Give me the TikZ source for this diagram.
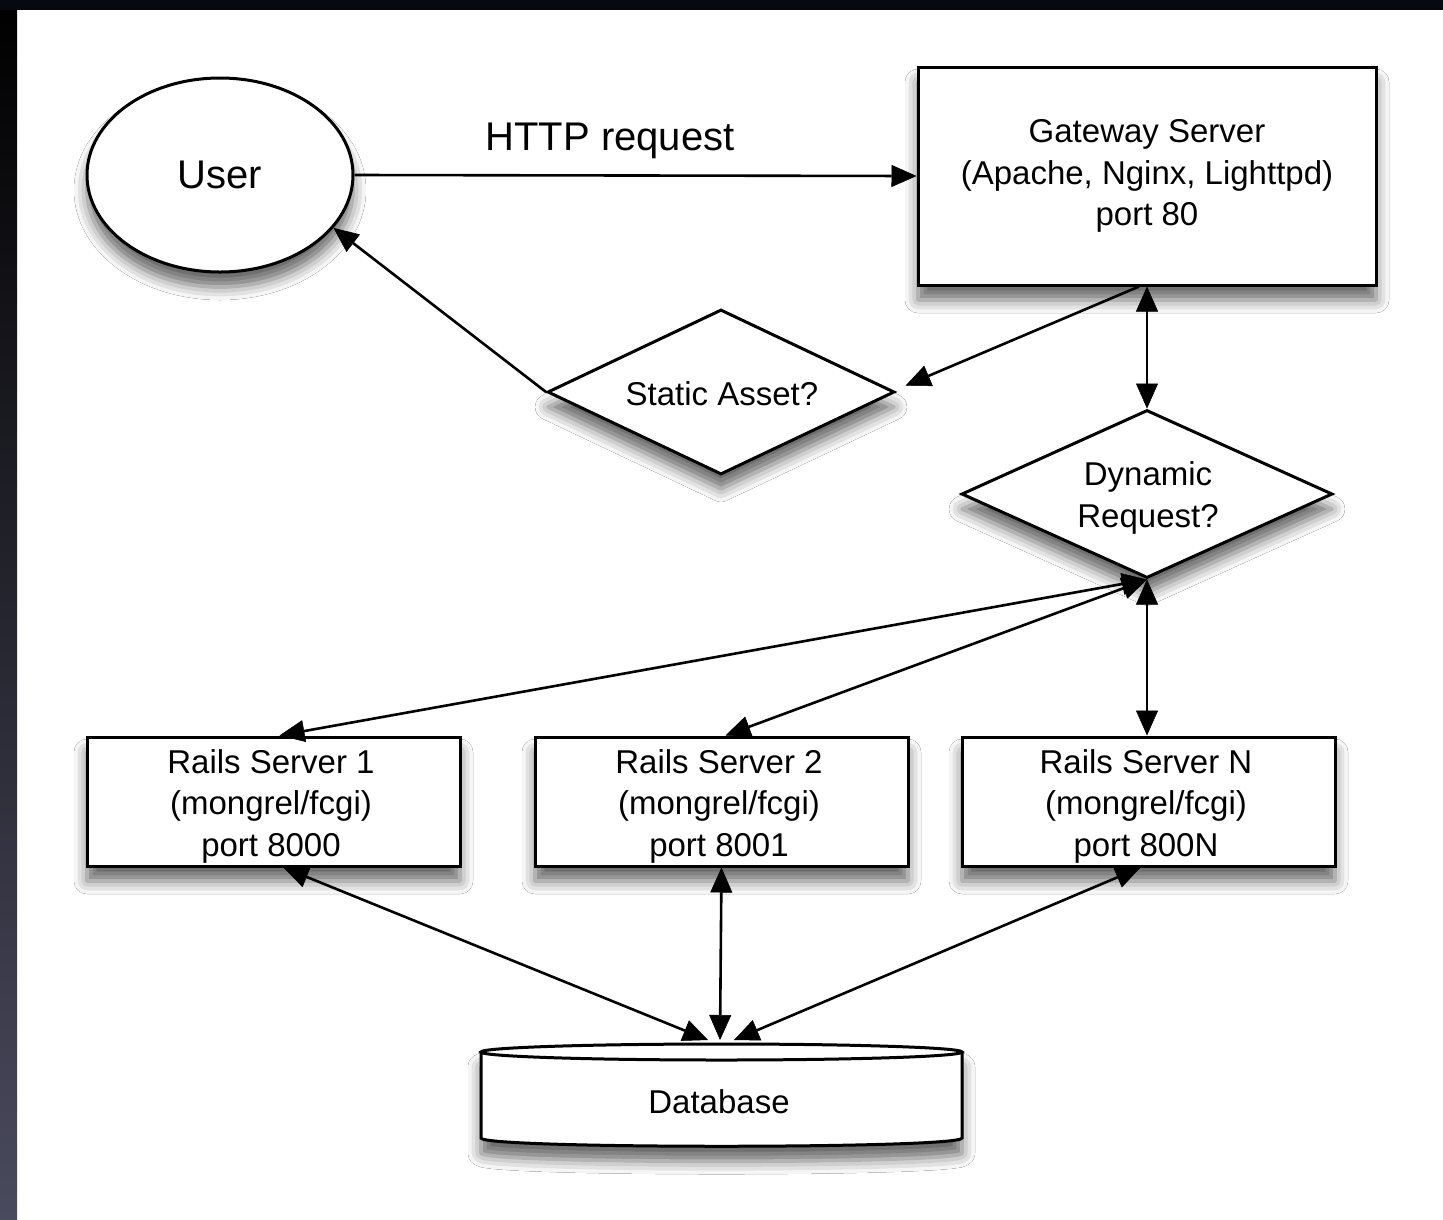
\documentclass[tikz,border=0pt]{standalone}
\usepackage{fontspec}
\setmainfont{Liberation Sans}
\usetikzlibrary{shapes.geometric,arrows.meta,shadows.blur,calc}
\definecolor{bandtop}{RGB}{8,8,16}
\definecolor{bandbot}{RGB}{74,74,94}
\begin{document}
\begin{tikzpicture}[x=1pt,y=-1pt,
  shd/.style={blur shadow={shadow xshift=0pt,shadow yshift=-15pt,shadow blur radius=13pt,shadow opacity=60}},
  txt/.style={font=\fontsize{33}{41.5}\selectfont,align=center},
  boxn/.style={draw,line width=3pt,fill=white,shd,inner sep=0pt,txt},
  dia/.style={boxn,diamond,aspect=2.1},
  tip/.style={Triangle[length=25pt,width=22pt,fill=black,line width=0.5pt]},
  conn/.style={line width=2.6pt,-{Triangle[length=25pt,width=22pt,fill=black,line width=0.5pt]}},
  dconn/.style={line width=2.6pt,{Triangle[length=25pt,width=22pt,fill=black,line width=0.5pt]}-{Triangle[length=25pt,width=22pt,fill=black,line width=0.5pt]}}]
\useasboundingbox (0,0) rectangle (1443,1219);
\fill[white] (0,0) rectangle (1443,1219);
\shade[top color=black,bottom color=bandbot] (0,0) rectangle (17,1219);
\fill[bandtop] (0,0) rectangle (1443,10);

\node[boxn,ellipse,minimum width=266,minimum height=194,font=\fontsize{40}{48}\selectfont] (user) at (220,175) {User};
\node[boxn,minimum width=458,minimum height=218] (gw) at (1147,176) {Gateway Server\\(Apache, Nginx, Lighttpd)\\port 80};
\node[dia,minimum width=347,minimum height=165] (static) at (721,392) {};
\node[txt] (statict) at (722,394) {Static Asset?};
\node[dia,minimum width=371,minimum height=168] (dyn) at (1147,494) {};
\node[txt] (dynt) at (1148,498) {Dynamic\\Request?};
\node[boxn,minimum width=373,minimum height=129] (r1) at (273.5,801.5) {};
\node[txt] (r1t) at (271,806) {Rails Server 1\\(mongrel/fcgi)\\port 8000};
\node[boxn,minimum width=373,minimum height=129] (r2) at (721.5,801.5) {};
\node[txt] (r2t) at (719,806) {Rails Server 2\\(mongrel/fcgi)\\port 8001};
\node[boxn,minimum width=373,minimum height=129] (rn) at (1148.5,801.5) {};
\node[txt] (rnt) at (1146,806) {Rails Server N\\(mongrel/fcgi)\\port 800N};

% database cylinder
\fill[white,shd] (481,1052) -- (481,1138) .. controls (481,1149) and (962,1149) .. (962,1138) -- (962,1052) .. controls (962,1041) and (481,1041) .. cycle;
\draw[line width=3pt,fill=white] (481,1052) -- (481,1138) .. controls (481,1149) and (962,1149) .. (962,1138) -- (962,1052);
\draw[line width=3pt] (721.5,1052) ellipse [x radius=240.5, y radius=8];
\node[inner sep=0pt,font=\fontsize{33}{41}\selectfont] (db) at (719,1102) {Database};
\coordinate (dbl) at (708,1040);
\coordinate (dbm) at (720,1040);
\coordinate (dbr) at (734,1040);

\node[font=\fontsize{40}{48}\selectfont] (http) at (610,141) {HTTP request};

\draw[conn] (user.east) -- (gw.west);
\draw[conn,shorten >=6pt] ($(gw.south)+(-8,0)$) -- ($(static.east)+(4,-4)$);
\draw[conn] (static.west) -- (user.-25);
\draw[dconn] (gw.south) -- (dyn.north);
\draw[dconn] (dyn.south) -- ($(r1.north)+(6,0)$);
\draw[dconn] (dyn.south) -- ($(r2.north)+(4,0)$);
\draw[dconn] (dyn.south) -- (dyn.south |- rn.north);
\draw[dconn] ($(r1.south)+(10,0)$) -- (dbl);
\draw[dconn] (r2.south) -- (dbm);
\draw[dconn] ($(rn.south)+(-8,0)$) -- (dbr);
\end{tikzpicture}
\end{document}
